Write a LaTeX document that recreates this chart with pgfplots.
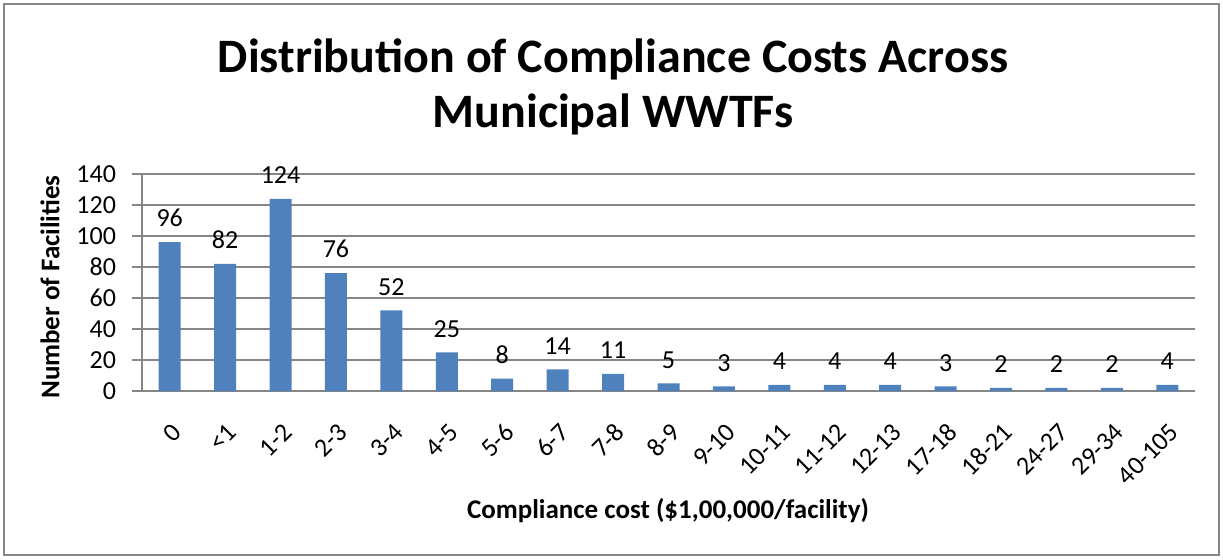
\documentclass[border=0pt]{standalone}
\usepackage{pgfplots}
\pgfplotsset{compat=1.18}
\usepackage{fontspec}
\setmainfont{Carlito}
\definecolor{barblue}{HTML}{4F81BD}
\definecolor{gridgray}{HTML}{868686}
\begin{document}
\begin{tikzpicture}[x=1pt,y=1pt]
\path[use as bounding box] (0,0) rectangle (611.5,279.5);
\draw[gridgray, line width=0.6pt] (2,2) rectangle (609.5,277.5);
\node[font=\fontsize{24}{27.5}\selectfont\bfseries, align=center] at (306.5,236) {Distribution of Compliance Costs Across\\Municipal WWTFs};
\begin{axis}[
  at={(71pt,84pt)}, anchor=south west,
  scale only axis, width=526.5pt, height=108.5pt,
  xmin=-0.5, xmax=18.5, ymin=0, ymax=140,
  ytick={0,20,...,140},
  xtick={0,...,18},
  xticklabels={0,<1,1-2,2-3,3-4,4-5,5-6,6-7,7-8,8-9,9-10,10-11,11-12,12-13,17-18,18-21,24-27,29-34,40-105},
  ymajorgrids, grid style={gridgray, line width=0.6pt},
  axis lines*=left, axis line style={gridgray, line width=0.6pt},
  x tick style={draw=none}, y tick style={gridgray, line width=0.6pt},
  tick align=outside, major tick length=5pt,
  ybar, bar width=11pt,
  nodes near coords,
  every node near coord/.append style={font=\fontsize{13}{15}\selectfont, yshift=4pt, black},
  tick label style={font=\fontsize{13}{15}\selectfont},
  yticklabel style={xshift=-4.5pt},
  xticklabel style={rotate=45, anchor=east, yshift=-12pt, xshift=-3.5pt},
  /pgf/number format/assume math mode=true,
]
\addplot[fill=barblue, draw=none] coordinates {
(0,96) (1,82) (2,124) (3,76) (4,52) (5,25) (6,8) (7,14) (8,11) (9,5)
(10,3) (11,4) (12,4) (13,4) (14,3) (15,2) (16,2) (17,2) (18,4)};
\end{axis}
\node[rotate=90, font=\fontsize{13.5}{15}\selectfont\bfseries] at (25,136) {Number of Facilities};
\node[font=\fontsize{13.5}{15}\selectfont\bfseries] at (334,24) {Compliance cost (\$1,00,000/facility)};
\end{tikzpicture}
\end{document}
